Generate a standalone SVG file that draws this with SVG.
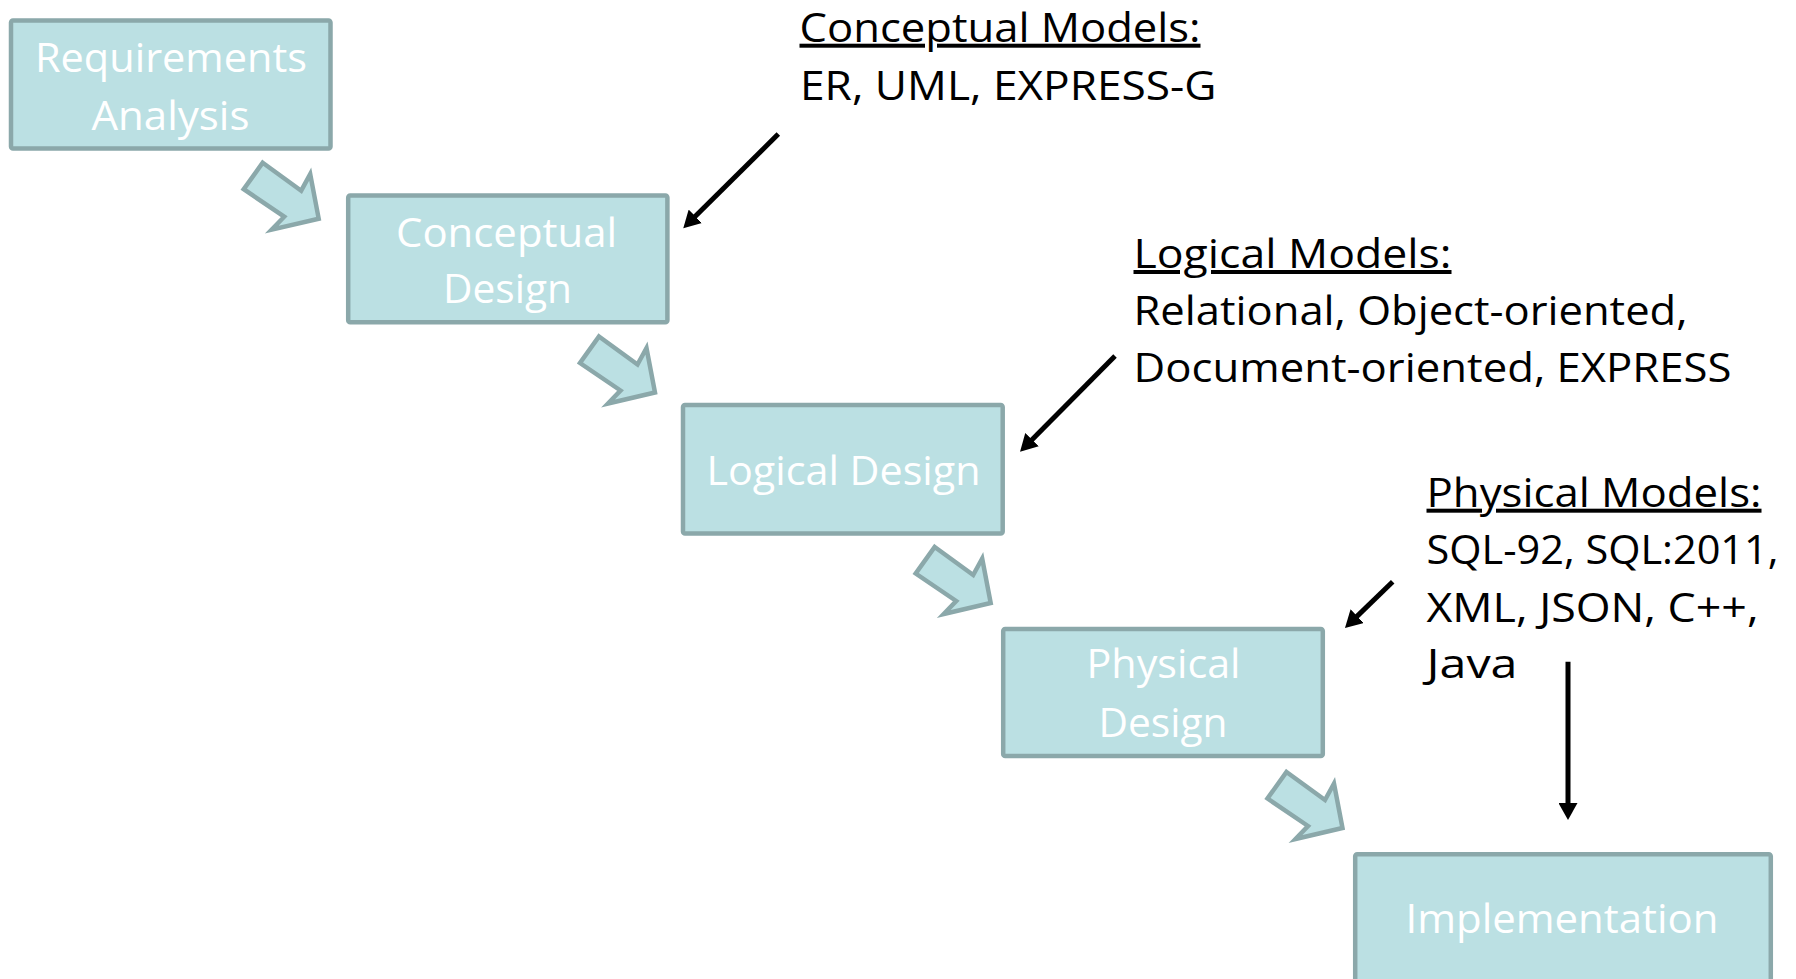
<svg xmlns="http://www.w3.org/2000/svg" width="1796" height="979" viewBox="0 0 1796 979">
<style>
.box{fill:#bbe0e3;stroke:#8ba8aa;stroke-width:4.5}
.bt{font-family:"Open Sans","Noto Sans","DejaVu Sans",sans-serif;font-size:40px;fill:#ffffff}
.at{font-family:"Open Sans","Noto Sans","DejaVu Sans",sans-serif;font-size:40px;fill:#000000}
.step{fill:#bbe0e3;stroke:#8ba8aa;stroke-width:4.5;stroke-linejoin:miter}
.ptr{fill:none;stroke:#000;stroke-width:5}
</style>
<defs>
<marker id="ah" markerUnits="userSpaceOnUse" viewBox="0 0 17 19" refX="5" refY="9.5" markerWidth="17" markerHeight="19" orient="auto">
<path d="M0,0 L17,9.5 L0,19 Z" fill="#000"/>
</marker>
<path id="blk" d="M-58,-58 L-19.5,-30 L-10.5,-46.5 L-2,-2 L-49,9 L-36.5,-4 L-77,-31.5 Z"/>
</defs>
<rect width="1796" height="979" fill="#ffffff"/>
<g id="n-requirements">
<rect class="box" x="11" y="20.5" width="319.5" height="128" rx="2"/>
<text class="bt" x="35" y="71.7" textLength="272" lengthAdjust="spacingAndGlyphs">Requirements</text>
<text class="bt" x="91.5" y="130" textLength="158" lengthAdjust="spacingAndGlyphs">Analysis</text>
</g>
<g id="n-conceptual">
<rect class="box" x="348.2" y="195.5" width="319.2" height="126.8" rx="2"/>
<text class="bt" x="396" y="246.7" textLength="221" lengthAdjust="spacingAndGlyphs">Conceptual</text>
<text class="bt" x="443" y="303.3" textLength="129" lengthAdjust="spacingAndGlyphs">Design</text>
</g>
<g id="n-logical">
<rect class="box" x="683" y="405" width="319.7" height="128.5" rx="2"/>
<text class="bt" x="706.5" y="485" textLength="274" lengthAdjust="spacingAndGlyphs">Logical Design</text>
</g>
<g id="n-physical">
<rect class="box" x="1003.2" y="629" width="319.6" height="127" rx="2"/>
<text class="bt" x="1086.5" y="678.3" textLength="154" lengthAdjust="spacingAndGlyphs">Physical</text>
<text class="bt" x="1098.5" y="736.7" textLength="129" lengthAdjust="spacingAndGlyphs">Design</text>
</g>
<g id="n-implementation">
<rect class="box" x="1355.2" y="854.2" width="415.6" height="200" rx="2"/>
<text class="bt" x="1405.5" y="933" textLength="313" lengthAdjust="spacingAndGlyphs">Implementation</text>
</g>
<g id="n-conceptual-models">
<text class="at" x="799.5" y="41.7" textLength="401" lengthAdjust="spacingAndGlyphs" text-decoration="underline">Conceptual Models:</text>
<text class="at" x="800" y="100" textLength="416.5" lengthAdjust="spacingAndGlyphs">ER, UML, EXPRESS-G</text>
</g>
<g id="n-logical-models">
<text class="at" x="1133.5" y="268" textLength="318" lengthAdjust="spacingAndGlyphs" text-decoration="underline">Logical Models:</text>
<text class="at" x="1133.5" y="325" textLength="554" lengthAdjust="spacingAndGlyphs">Relational, Object-oriented,</text>
<text class="at" x="1133.5" y="381.7" textLength="598" lengthAdjust="spacingAndGlyphs">Document-oriented, EXPRESS</text>
</g>
<g id="n-physical-models">
<text class="at" x="1426.5" y="506.7" textLength="335" lengthAdjust="spacingAndGlyphs" text-decoration="underline">Physical Models:</text>
<text class="at" x="1426.5" y="564" textLength="352" lengthAdjust="spacingAndGlyphs">SQL-92, SQL:2011,</text>
<text class="at" x="1426.5" y="621.7" textLength="332" lengthAdjust="spacingAndGlyphs">XML, JSON, C++,</text>
<text class="at" x="1426.5" y="678.3" textLength="91" lengthAdjust="spacingAndGlyphs">Java</text>
</g>
<g id="connectors">
<use href="#blk" class="step" transform="translate(320.7,220.7)"/>
<use href="#blk" class="step" transform="translate(657,394.5)"/>
<use href="#blk" class="step" transform="translate(992.7,605)"/>
<use href="#blk" class="step" transform="translate(1344.5,830)"/>
<line class="ptr" x1="778.3" y1="134" x2="691.8" y2="219.85" marker-end="url(#ah)"/>
<line class="ptr" x1="1115" y1="356" x2="1028.5" y2="443.2" marker-end="url(#ah)"/>
<line class="ptr" x1="1392.7" y1="581.7" x2="1353.6" y2="619.65" marker-end="url(#ah)"/>
<line class="ptr" x1="1568" y1="661.7" x2="1568" y2="808" marker-end="url(#ah)"/>
</g>
</svg>
